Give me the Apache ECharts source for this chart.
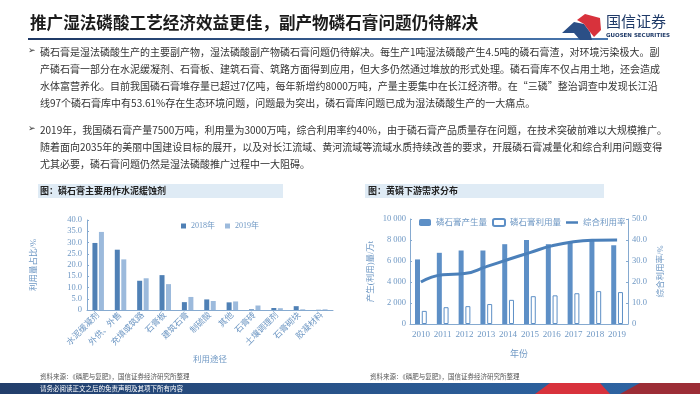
<!DOCTYPE html>
<html>
<head>
<meta charset="utf-8">
<script src="https://cdn.jsdelivr.net/npm/echarts@6/dist/echarts.min.js"></script>
<style>
  html, body { margin: 0; padding: 0; background: #fff; }
  #chart { width: 700px; height: 394px; }
</style>
</head>
<body>
<div id="chart"></div>
<script>
// left chart: 磷石膏利用途径占比
var useCats = ['水泥缓凝剂', '外供、外售', '充填或筑路', '石膏板', '建筑石膏', '制硫酸', '其他', '石膏砖', '土壤调理剂', '石膏砌块', '胶凝材料']
var share2018 = [29.8, 26.8, 13.0, 15.5, 3.5, 4.7, 3.4, 0.3, 0.9, 1.7, 0.1]
var share2019 = [34.7, 22.5, 14.1, 11.5, 5.8, 4.0, 3.8, 2.0, 0.8, 0.3, 0.3]

// right chart: 产生量 / 利用量 / 综合利用率
var years = ['2010', '2011', '2012', '2013', '2014', '2015', '2016', '2017', '2018', '2019']
var output = [6150, 6780, 7000, 7000, 7600, 8000, 7600, 7800, 7950, 7500]
var used = [1250, 1600, 1700, 1900, 2300, 2650, 2730, 2930, 3130, 3040]
var useRate = [20.0, 23.5, 24.0, 27.3, 30.7, 34.0, 37.2, 39.2, 39.9, 40.0]

var bodyLines = [
  '磷石膏是湿法磷酸生产的主要副产物，湿法磷酸副产物磷石膏问题仍待解决。每生产1吨湿法磷酸产生4.5吨的磷石膏渣，对环境污染极大。副',
  '产磷石膏一部分在水泥缓凝剂、石膏板、建筑石膏、筑路方面得到应用，但大多仍然通过堆放的形式处理。磷石膏库不仅占用土地，还会造成',
  '水体富营养化。目前我国磷石膏堆存量已超过7亿吨，每年新增约8000万吨，产量主要集中在长江经济带。在“三磷”整治调查中发现长江沿',
  '线97个磷石膏库中有53.61%存在生态环境问题，问题最为突出，磷石膏库问题已成为湿法磷酸生产的一大痛点。'
]
var bodyLines2 = [
  '2019年，我国磷石膏产量7500万吨，利用量为3000万吨，综合利用率约40%，由于磷石膏产品质量存在问题，在技术突破前难以大规模推广。',
  '随着面向2035年的美丽中国建设目标的展开，以及对长江流域、黄河流域等流域水质持续改善的要求，开展磷石膏减量化和综合利用问题变得',
  '尤其必要，磷石膏问题仍然是湿法磷酸推广过程中一大阻碍。'
]

var serif = 'Liberation Serif, "Noto Sans CJK SC", serif'
var sans = '"Noto Sans CJK SC", "Noto Sans", sans-serif'
var axisBlue = '#86aad0'
var labelBlue = '#6f98c4'

function bodyText(lines, y0) {
  return lines.map(function(t, i) {
    return {
      type: 'text', left: 40, top: y0 + i * 17,
      style: { text: t, fontSize: 10, fontFamily: sans, fill: '#333' }
    }
  })
}

function spaced(v) {
  return String(v).replace(/\B(?=(\d{3})+$)/g, ' ')
}

var graphics = [
  // title
  { type: 'text', left: 30, top: 14, style: { text: '推广湿法磷酸工艺经济效益更佳，副产物磷石膏问题仍待解决', fontSize: 16.6, fontWeight: 'bold', fontFamily: sans, fill: '#1b1b1b' } },
  { type: 'rect', shape: { x: 28, y: 38, width: 580, height: 2 },
    style: { fill: new echarts.graphic.LinearGradient(0, 0, 1, 0, [{ offset: 0, color: '#1d3763' }, { offset: 1, color: '#4a78b0' }]) } },
  // logo
  { type: 'polygon', shape: { points: [[562, 33], [574, 22], [584, 24], [590, 32], [592, 40], [580, 40], [574, 33]] }, style: { fill: '#2b4f86' } },
  { type: 'polygon', shape: { points: [[577, 20], [585, 14], [600, 18], [601, 30], [594, 37], [590, 32], [584, 24]] }, style: { fill: '#d8323c' } },
  { type: 'text', left: 606, top: 14, style: { text: '国信证券', fontSize: 15, fontFamily: sans, fill: '#1f3a68' } },
  { type: 'text', left: 606, top: 33, style: { text: 'GUOSEN SECURITIES', fontSize: 5.5, fontWeight: 'bold', fontFamily: 'DejaVu Sans', fill: '#1f3a68' } },
  // bullets
  { type: 'text', left: 28, top: 46, style: { text: '➢', fontSize: 9, fontFamily: 'DejaVu Sans', fill: '#333' } },
  { type: 'text', left: 28, top: 124, style: { text: '➢', fontSize: 9, fontFamily: 'DejaVu Sans', fill: '#333' } },
  // section headers
  { type: 'rect', shape: { x: 38, y: 184, width: 245, height: 14 }, style: { fill: '#dfebf5' } },
  { type: 'rect', shape: { x: 365, y: 184, width: 239, height: 14 }, style: { fill: '#dfebf5' } },
  { type: 'text', left: 40, top: 186, style: { text: '图：磷石膏主要用作水泥缓蚀剂', fontSize: 9, fontWeight: 'bold', fontFamily: sans, fill: '#222' } },
  { type: 'text', left: 368, top: 186, style: { text: '图：黄磷下游需求分布', fontSize: 9, fontWeight: 'bold', fontFamily: sans, fill: '#222' } },
  // sources
  { type: 'text', left: 40, top: 373, style: { text: '资料来源：《磷肥与复肥》，国信证券经济研究所整理', fontSize: 6.5, fontFamily: sans, fill: '#555' } },
  { type: 'text', left: 370, top: 373, style: { text: '资料来源：《磷肥与复肥》，国信证券经济研究所整理', fontSize: 6.5, fontFamily: sans, fill: '#555' } },
  // footer
  { type: 'rect', shape: { x: 0, y: 383, width: 700, height: 11 },
    style: { fill: new echarts.graphic.LinearGradient(0, 0, 1, 0, [{ offset: 0, color: '#223e6b' }, { offset: 0.7, color: '#2b5d98' }, { offset: 1, color: '#2f66a6' }]) } },
  { type: 'polygon', shape: { points: [[535, 394], [550, 383], [600, 383], [610, 394]] }, style: { fill: '#d8323c' } },
  { type: 'polygon', shape: { points: [[620, 394], [640, 383], [700, 383], [700, 394]] }, style: { fill: '#9c2d36' } },
  { type: 'text', left: 40, top: 385, style: { text: '请务必阅读正文之后的免责声明及其项下所有内容', fontSize: 6.5, fontFamily: sans, fill: '#fff' } }
].concat(bodyText(bodyLines, 47), bodyText(bodyLines2, 125))

var chart = echarts.init(document.getElementById('chart'))
chart.setOption({
  animation: false,
  graphic: graphics,
  legend: [{
    data: ['2018年', '2019年'],
    left: 176, top: 217,
    icon: 'rect', itemWidth: 5, itemHeight: 5, itemGap: 10,
    textStyle: { fontSize: 8, fontFamily: serif, color: labelBlue }
  }, {
    data: ['磷石膏产生量', '磷石膏利用量', { name: '综合利用率', icon: 'path://M0,0 L24,0 L24,5 L0,5 Z' }],
    left: 414, top: 213,
    itemWidth: 12, itemHeight: 7, itemGap: 5,
    textStyle: { fontSize: 8.5, fontFamily: serif, color: labelBlue }
  }],
  grid: [
    { left: 87, right: 367, top: 220, bottom: 84 },
    { left: 410, right: 72, top: 219, bottom: 70 }
  ],
  xAxis: [{
    type: 'category', gridIndex: 0, data: useCats,
    name: '利用途径', nameLocation: 'middle', nameGap: 46,
    nameTextStyle: { fontSize: 8.5, fontFamily: serif, color: labelBlue },
    axisLine: { lineStyle: { color: axisBlue } },
    axisTick: { show: false },
    axisLabel: { interval: 0, rotate: 45, fontSize: 8.5, fontFamily: serif, color: labelBlue, margin: 4 }
  }, {
    type: 'category', gridIndex: 1, data: years,
    name: '年份', nameLocation: 'middle', nameGap: 26,
    nameTextStyle: { fontSize: 9, fontFamily: serif, color: labelBlue },
    axisLine: { lineStyle: { color: axisBlue } },
    axisTick: { show: false },
    axisLabel: { interval: 0, fontSize: 9, fontFamily: serif, color: labelBlue, margin: 6 }
  }],
  yAxis: [{
    type: 'value', gridIndex: 0, min: 0, max: 40, interval: 5,
    name: '利用量占比/%', nameLocation: 'middle', nameGap: 49, nameRotate: 90,
    nameTextStyle: { fontSize: 8.5, fontFamily: serif, color: labelBlue },
    axisLine: { show: true, lineStyle: { color: axisBlue } },
    axisTick: { show: true, inside: true, length: 2, lineStyle: { color: axisBlue } },
    splitLine: { show: false },
    axisLabel: { fontSize: 8.5, fontFamily: serif, color: labelBlue, margin: 5,
      formatter: function(v) { return v === 0 ? '0' : v.toFixed(1) } }
  }, {
    type: 'value', gridIndex: 1, min: 0, max: 10000, interval: 2000,
    name: '产生(利用)量/万t', nameLocation: 'middle', nameGap: 35, nameRotate: 90,
    nameTextStyle: { fontSize: 8.5, fontFamily: serif, color: labelBlue },
    axisLine: { show: true, lineStyle: { color: axisBlue } },
    axisTick: { show: true, inside: true, length: 2, lineStyle: { color: axisBlue } },
    splitLine: { show: false },
    axisLabel: { fontSize: 8.5, fontFamily: serif, color: labelBlue, margin: 4, formatter: spaced }
  }, {
    type: 'value', gridIndex: 1, position: 'right', min: 0, max: 50, interval: 10,
    name: '综合利用率/%', nameLocation: 'middle', nameGap: 29, nameRotate: 90,
    nameTextStyle: { fontSize: 8.5, fontFamily: serif, color: labelBlue },
    axisLine: { show: true, lineStyle: { color: axisBlue } },
    axisTick: { show: true, inside: true, length: 2, lineStyle: { color: axisBlue } },
    splitLine: { show: false },
    axisLabel: { fontSize: 8.5, fontFamily: serif, color: labelBlue, margin: 4,
      formatter: function(v) { return v === 0 ? '0' : v.toFixed(1) } }
  }],
  series: [{
    name: '2018年', type: 'bar', xAxisIndex: 0, yAxisIndex: 0,
    data: share2018, barWidth: 5, barGap: '30%',
    itemStyle: { color: '#4f80b5' }
  }, {
    name: '2019年', type: 'bar', xAxisIndex: 0, yAxisIndex: 0,
    data: share2019, barWidth: 5,
    itemStyle: { color: '#9cbadc' }
  }, {
    name: '磷石膏产生量', type: 'bar', xAxisIndex: 1, yAxisIndex: 1,
    data: output, barWidth: 5, barGap: '35%',
    itemStyle: { color: '#5d8fc6' }
  }, {
    name: '磷石膏利用量', type: 'bar', xAxisIndex: 1, yAxisIndex: 1,
    data: used, barWidth: 5,
    itemStyle: { color: '#fff', borderColor: '#5d8fc6', borderWidth: 1 }
  }, {
    name: '综合利用率', type: 'line', xAxisIndex: 1, yAxisIndex: 2,
    data: useRate, smooth: true, symbol: 'none',
    lineStyle: { color: '#4b80ba', width: 3 },
    itemStyle: { color: '#4b80ba' }
  }]
})
</script>
</body>
</html>
